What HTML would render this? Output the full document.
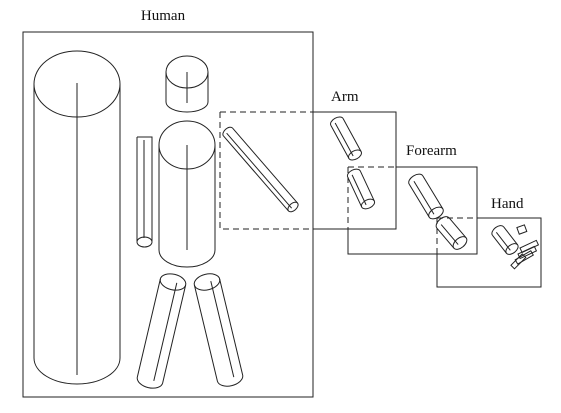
<!DOCTYPE html>
<html><head><meta charset="utf-8"><style>
html,body{margin:0;padding:0;background:#fff;width:561px;height:413px;overflow:hidden}
svg{display:block}
text{font-family:"Liberation Serif",serif;font-size:15px;fill:#111}
</style></head><body>
<svg id="s" width="561" height="413" viewBox="0 0 561 413" fill="none" stroke="#222" stroke-width="1">
<text x="163" y="20" text-anchor="middle" stroke="none">Human</text>
<rect x="23" y="32" width="290" height="365"/>
<text x="331" y="101" stroke="none">Arm</text>
<path d="M220 112 H313 M220 112 V229 H313" stroke-dasharray="6,4"/>
<path d="M313 112 H396 V229 H313"/>
<text x="406" y="155" stroke="none">Forearm</text>
<path d="M348 167 H396 M348 167 V229" stroke-dasharray="6,4"/>
<path d="M396 167 H477 V254 H348 V229"/>
<text x="491" y="208" stroke="none">Hand</text>
<path d="M437 218 H477 M437 218 V254" stroke-dasharray="6,4"/>
<path d="M477 218 H541 V287 H437 V254"/>
<g>
<ellipse cx="77" cy="84" rx="43" ry="33"/>
<path d="M34 84 V358 A43 26 0 0 0 120 358 V84"/>
<path d="M77 83 V375"/>
</g>
<g>
<ellipse cx="187" cy="72" rx="21" ry="16"/>
<path d="M166 72 V102 A21 10 0 0 0 208 102 V72 M187 72 V103"/>
</g>
<g>
<ellipse cx="187" cy="145" rx="28" ry="24"/>
<path d="M159 145 V250 A28 17 0 0 0 215 250 V145 M187 145 V250"/>
</g>
<g>
<path d="M137 137 H152 V241 M137 137 V241 M144 140 V238"/>
<ellipse cx="144.5" cy="242" rx="7.5" ry="5"/>
</g>
<g>
<rect x="518" y="226" width="8" height="7" transform="rotate(-20 522 230)"/>
<rect x="520" y="244" width="18" height="5" transform="rotate(-25 529 246)"/>
<rect x="518" y="250" width="18" height="5" transform="rotate(-25 527 252)"/>
<rect x="515" y="255" width="18" height="5" transform="rotate(-30 524 257)"/>
<rect x="510" y="259" width="16" height="5" transform="rotate(-45 518 261)"/>
</g>
<g id="cyls"></g>
</svg>
<script>
const cylNames=['upper-arm-rod','left-leg','right-leg','arm-cyl-1','arm-cyl-2','forearm-cyl-1','forearm-cyl-2','hand-cyl'];
const cylTop=[[228,132],[173,282],[207,282],[337,122],[354,174],[416,180],[443,223],[498,231]];
const cylBot=[[293,207],[150,380],[230,378],[355,155],[368,204],[436,213],[460,243],[512,249]];
const cylR=[6,13,13,7,7,8,8,7];
const cylFullTop=[false,true,true,false,false,false,false,false];
const g=document.getElementById('cyls');
const NS='http://www.w3.org/2000/svg';
cylNames.forEach((n,i)=>{
  let [x1,y1]=cylTop[i],[x2,y2]=cylBot[i];
  if(cylFullTop[i]){[x1,y1,x2,y2]=[x2,y2,x1,y1];}
  const dx=x2-x1,dy=y2-y1,L=Math.hypot(dx,dy),r=cylR[i],e=r*0.6;
  const a=Math.atan2(dy,dx)*180/Math.PI-90;
  const el=document.createElementNS(NS,'g');
  
  
  el.setAttribute('transform',`translate(${x1} ${y1}) rotate(${a})`);
  el.innerHTML=`<path d="M${-r} 0 L${-r} ${L} M${r} 0 L${r} ${L} M${-r*0.3} 0 L${-r*0.3} ${L}"/>`+
    `<path d="M${-r} 0 A${r} ${e} 0 0 1 ${r} 0"/>`+
    `<ellipse cx="0" cy="${L}" rx="${r}" ry="${e}"/>`;
  g.appendChild(el);
});
</script>
</body></html>
